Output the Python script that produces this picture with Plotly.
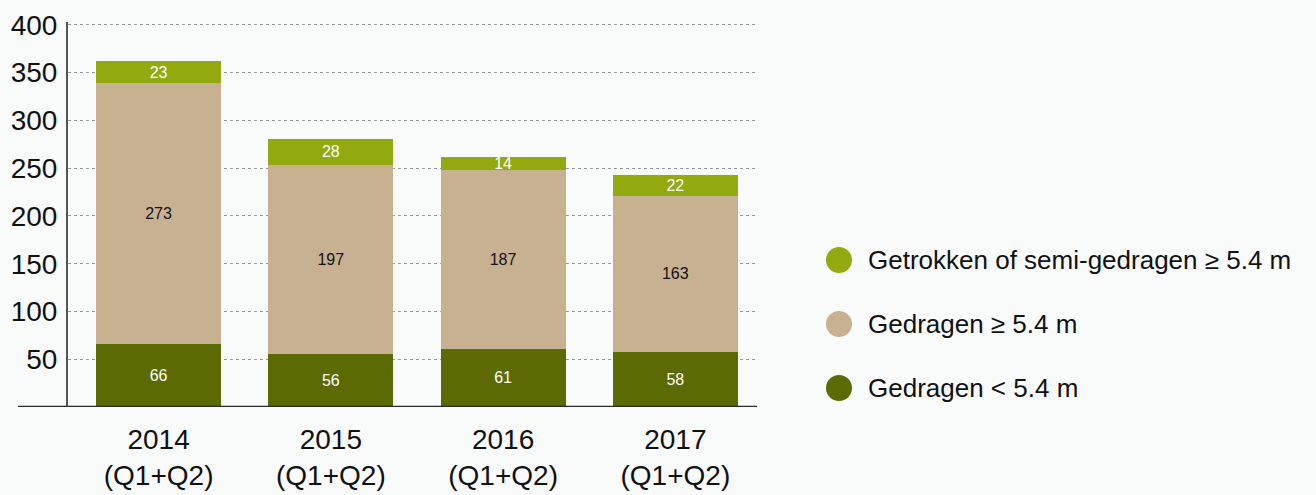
import plotly.graph_objects as go

categories = ["2014<br>(Q1+Q2)", "2015<br>(Q1+Q2)", "2016<br>(Q1+Q2)", "2017<br>(Q1+Q2)"]
small_carried = [66, 56, 61, 58]
large_carried = [273, 197, 187, 163]
towed = [23, 28, 14, 22]
series_names = ["Getrokken of semi-gedragen ≥ 5.4 m", "Gedragen ≥ 5.4 m", "Gedragen < 5.4 m"]
colors = ["#92a90f", "#c8b190", "#5b6a02"]
y_ticks = [50, 100, 150, 200, 250, 300, 350, 400]

SANS = "Liberation Sans, Arial, Helvetica"

fig = go.Figure()
for vals, name, col, tcol in [
    (small_carried, series_names[2], colors[2], "white"),
    (large_carried, series_names[1], colors[1], "#111111"),
    (towed, series_names[0], colors[0], "white"),
]:
    fig.add_trace(go.Bar(
        x=categories, y=vals, name=name, marker=dict(color=col, line=dict(width=0)),
        text=vals, textposition="inside", insidetextanchor="middle",
        constraintext="none", textangle=0,
        textfont=dict(family=SANS, size=16, color=tcol),
        showlegend=False, hoverinfo="skip",
    ))

Y_MAX = 403
PLOT_L, PLOT_R, PLOT_B = 68, 757, 407
PLOT_T = PLOT_B - round(382 * Y_MAX / 400)
PW, PH = PLOT_R - PLOT_L, PLOT_B - PLOT_T

shapes = [
    dict(type="line", xref="paper", yref="y", x0=(18 - PLOT_L) / PW, x1=1.0, y0=0, y1=0,
         line=dict(color="#2b2b2b", width=2.5), layer="above"),
]
annotations = []
for name, col, yy in zip(series_names, colors, [260, 324, 388]):
    ypaper = 1 - (yy - PLOT_T) / PH
    shapes.append(dict(type="circle", xref="paper", yref="paper",
                       xsizemode="pixel", ysizemode="pixel",
                       xanchor=(839 - PLOT_L) / PW, yanchor=ypaper,
                       x0=-13, x1=13, y0=-13, y1=13,
                       fillcolor=col, line=dict(width=0)))
    annotations.append(dict(xref="paper", yref="paper", x=(866 - PLOT_L) / PW, y=ypaper,
                            text=name, showarrow=False, xanchor="left", yanchor="middle",
                            font=dict(family=SANS, size=26, color="#111111")))

fig.update_layout(
    barmode="stack",
    bargap=0.274,
    width=1316, height=495,
    margin=dict(l=PLOT_L, r=1316 - PLOT_R, t=PLOT_T, b=495 - PLOT_B, pad=0, autoexpand=False),
    paper_bgcolor="#f9fafa",
    plot_bgcolor="rgba(0,0,0,0)",
    shapes=shapes,
    annotations=annotations,
    xaxis=dict(range=[-0.526, 3.474], showline=False, showgrid=False, ticks="", automargin=False,
               tickfont=dict(family=SANS, size=28, color="#111111"),
               ticklabelstandoff=13),
    yaxis=dict(range=[0, Y_MAX], tickvals=y_ticks, showgrid=True, automargin=False,
               gridcolor="#9a9a9a", griddash="dot", gridwidth=1,
               showline=True, linecolor="#555555", linewidth=2,
               zeroline=False, ticks="",
               tickfont=dict(family=SANS, size=28, color="#111111"),
               ticklabelstandoff=3),
)

fig.write_html("out.html", config={"displayModeBar": False},
               post_script="document.body.style.margin='0';document.body.style.padding='0';")
